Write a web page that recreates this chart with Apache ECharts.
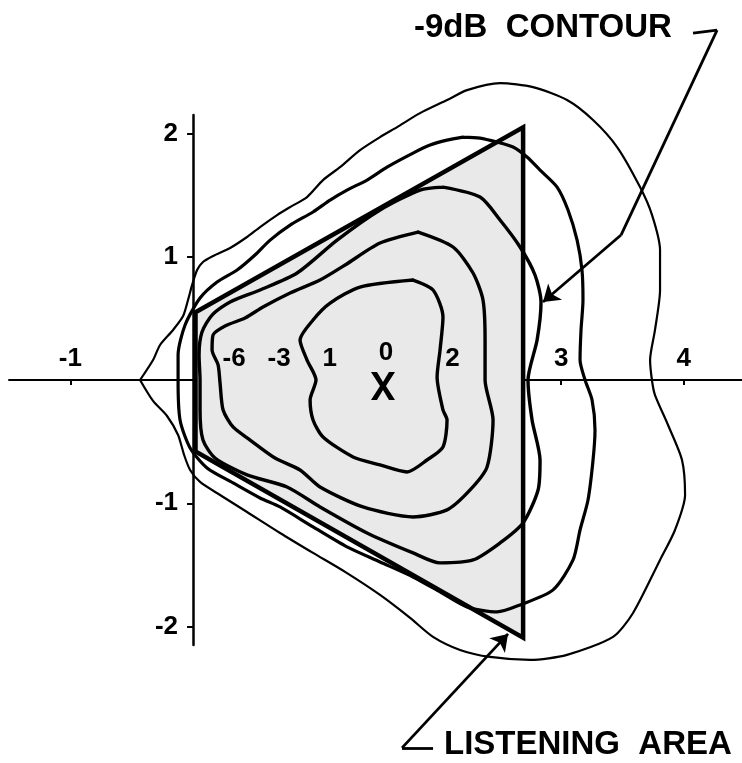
<!DOCTYPE html>
<html>
<head>
<meta charset="utf-8">
<script src="https://cdn.jsdelivr.net/npm/echarts@6/dist/echarts.min.js"></script>
<style>
  html, body { margin: 0; padding: 0; background: #ffffff; }
  #chart { width: 742px; height: 763px; }
</style>
</head>
<body>
<div id="chart"></div>
<script>
// Axis ticks (metres from the loudspeaker line)
const xTickValues = [-1, 1, 2, 3, 4];
const yTickValues = [-2, -1, 1, 2];

// Listening area (trapezoid), [x, y]
const listeningArea = [[0.02, 0.55], [2.69, 2.05], [2.69, -2.09], [0.02, -0.58]];

// Level contours, outermost first, each a closed ring of [x, y]
const ring1 = [
  [-0.432, 0], [-0.326, -0.170], [-0.212, -0.292], [-0.122, -0.446], [-0.073, -0.608],
  [-0.024, -0.730], [0.057, -0.827], [0.220, -0.933], [0.440, -1.071], [0.709, -1.241],
  [0.978, -1.403], [1.239, -1.557], [1.524, -1.744], [1.769, -1.930], [1.956, -2.084],
  [2.176, -2.190], [2.421, -2.247], [2.747, -2.271], [3.048, -2.230], [3.423, -2.084],
  [3.586, -1.890], [3.806, -1.460], [3.928, -1.217], [4.010, -0.933], [3.985, -0.649],
  [3.871, -0.365], [3.765, -0.122], [3.741, -0.008], [3.725, 0.162], [3.765, 0.406],
  [3.806, 0.730], [3.806, 1.054], [3.741, 1.338], [3.643, 1.565], [3.456, 1.890],
  [3.260, 2.109], [3.048, 2.271], [2.771, 2.376], [2.502, 2.409], [2.233, 2.352],
  [2.070, 2.271], [1.850, 2.165], [1.663, 2.052], [1.524, 1.971], [1.361, 1.865],
  [1.198, 1.727], [1.059, 1.622], [0.929, 1.484], [0.791, 1.403], [0.685, 1.338],
  [0.546, 1.241], [0.440, 1.160], [0.302, 1.071], [0.163, 1.006], [0.081, 0.957],
  [0.033, 0.892], [-0.008, 0.770], [-0.041, 0.649], [-0.081, 0.519], [-0.163, 0.406],
  [-0.269, 0.284], [-0.326, 0.162], [-0.432, 0]
];
const ring2 = [
  [2.200, 1.971], [2.339, 1.963], [2.478, 1.930], [2.608, 1.890], [2.722, 1.809],
  [2.828, 1.703], [2.967, 1.565], [3.056, 1.379], [3.130, 1.135], [3.170, 0.892],
  [3.178, 0.649], [3.162, 0.406], [3.154, 0.162], [3.195, 0], [3.252, -0.162],
  [3.276, -0.406], [3.260, -0.649], [3.219, -0.973], [3.154, -1.217], [3.097, -1.460],
  [2.934, -1.703], [2.665, -1.825], [2.478, -1.882], [2.233, -1.841], [2.013, -1.719],
  [1.793, -1.598], [1.524, -1.476], [1.255, -1.354], [0.978, -1.192], [0.709, -1.030],
  [0.546, -0.957], [0.326, -0.835], [0.114, -0.714], [-0.024, -0.551], [-0.106, -0.324],
  [-0.122, 0], [-0.122, 0.203], [-0.065, 0.446], [0.057, 0.665], [0.196, 0.795],
  [0.359, 0.892], [0.505, 1.014], [0.628, 1.135], [0.791, 1.257], [0.978, 1.363],
  [1.117, 1.460], [1.255, 1.541], [1.418, 1.622], [1.581, 1.727], [1.793, 1.841],
  [1.932, 1.906], [2.070, 1.946], [2.200, 1.971]
];
const ring3 = [
  [2.037, 1.565], [2.339, 1.484], [2.502, 1.298], [2.665, 1.079], [2.787, 0.852],
  [2.836, 0.633], [2.804, 0.324], [2.730, 0], [2.763, -0.324], [2.828, -0.649],
  [2.812, -0.892], [2.689, -1.160], [2.502, -1.322], [2.282, -1.460], [2.013, -1.484],
  [1.793, -1.403], [1.418, -1.241], [1.035, -1.030], [0.766, -0.868], [0.440, -0.770],
  [0.179, -0.633], [0.081, -0.487], [0.057, -0.243], [0.057, 0], [0.049, 0.203],
  [0.073, 0.389], [0.155, 0.527], [0.302, 0.633], [0.546, 0.730], [0.848, 0.868],
  [1.174, 1.135], [1.524, 1.379], [1.850, 1.541], [2.037, 1.565]
];
const ring4 = [
  [1.834, 1.200], [2.119, 1.079], [2.282, 0.868], [2.363, 0.649], [2.380, 0.324],
  [2.380, 0], [2.445, -0.324], [2.396, -0.706], [2.258, -0.892], [2.070, -1.054],
  [1.793, -1.111], [1.385, -1.030], [1.035, -0.868], [0.872, -0.730], [0.668, -0.633],
  [0.465, -0.487], [0.326, -0.381], [0.245, -0.243], [0.220, -0.024], [0.204, 0.122],
  [0.155, 0.243], [0.163, 0.365], [0.261, 0.438], [0.424, 0.503], [0.570, 0.592],
  [0.791, 0.706], [1.035, 0.811], [1.239, 0.933], [1.524, 1.111], [1.834, 1.200]
];
const ring5 = [
  [1.793, 0.811], [1.956, 0.730], [2.037, 0.511], [2.013, 0.243], [1.989, 0.024],
  [2.037, -0.243], [2.070, -0.324], [2.037, -0.543], [1.907, -0.649], [1.744, -0.746],
  [1.524, -0.689], [1.304, -0.624], [1.059, -0.462], [0.978, -0.324], [0.954, -0.162],
  [1.002, 0], [0.929, 0.162], [0.872, 0.324], [0.978, 0.487], [1.117, 0.624],
  [1.361, 0.754], [1.793, 0.811]
];

// Level labels written inside the field, anchored at bottom centre
const levelLabels = [
  { name: '-6', value: [0.334, 0.065] },
  { name: '-3', value: [0.701, 0.065] },
  { name: '0',  value: [1.573, 0.114] }
];
// Reference point
const centrePoint = [[1.548, -0.049]];

// Callout arrows (polyline vertices, arrow tip last)
const contourArrow = [[4.075, 2.814], [4.271, 2.839], [3.488, 1.176], [2.852, 0.633]];
const areaArrow = [[1.956, -2.985], [1.703, -2.985], [2.567, -2.060]];

const FONT = '"Liberation Sans", Arial, Helvetica, sans-serif';
const BOLD = { color: '#000', opacity: 1, fontWeight: 'bold', fontFamily: FONT };
const HIDDEN_POINT = { color: 'rgba(0,0,0,0)', opacity: 1 };

function ringSeries(data, width) {
  return {
    type: 'line', data: data, showSymbol: false, symbol: 'none', smooth: 0.25,
    clip: false, silent: true, animation: false, z: 3,
    lineStyle: { color: '#000', width: width, opacity: 1, join: 'round', cap: 'round' }
  };
}
function segmentsOf(pts) {
  const segs = [];
  for (let i = 0; i < pts.length - 1; i++) segs.push({ coords: [pts[i], pts[i + 1]], tip: i === pts.length - 2 });
  return segs;
}
const arrowSegs = segmentsOf(contourArrow).concat(segmentsOf(areaArrow));

// Tick labels sit on the axes that cross at the origin
const xTickLabelData = xTickValues.map(v => ({
  value: [v, 0], name: String(v),
  label: { offset: (v === 1 || v === 2) ? [14, 0] : [0, 0] }
}));
const yTickLabelData = yTickValues.map(v => ({ value: [0, v], name: String(v) }));

const chart = echarts.init(document.getElementById('chart'), null, { renderer: 'canvas' });
chart.setOption({
  backgroundColor: '#ffffff',
  animation: false,
  grid: { left: 9, right: 0, top: 115, bottom: 118, containLabel: false, outerBoundsMode: 'none' },
  xAxis: {
    type: 'value', min: -1.5, max: 4.474,
    axisLine: { onZero: true, lineStyle: { color: '#000', width: 2 } },
    axisTick: { show: true, customValues: xTickValues, length: 5, lineStyle: { color: '#000', width: 2 } },
    axisLabel: { show: false },
    splitLine: { show: false }
  },
  yAxis: {
    type: 'value', min: -2.15, max: 2.15,
    axisLine: { onZero: true, lineStyle: { color: '#000', width: 2.5 } },
    axisTick: { show: true, customValues: yTickValues, length: 6, lineStyle: { color: '#000', width: 2 } },
    axisLabel: { show: false },
    splitLine: { show: false }
  },
  series: [
    {
      // shaded listening area
      type: 'custom', coordinateSystem: 'cartesian2d', data: [[0, 0]], z: 1, silent: true, clip: false,
      renderItem: (params, api) => ({
        type: 'polygon',
        shape: { points: listeningArea.map(p => api.coord(p)) },
        style: { fill: '#e9e9e9', stroke: null }
      })
    },
    ringSeries(ring1, 2.2),
    ringSeries(ring2, 3.2),
    ringSeries(ring3, 3.4),
    ringSeries(ring4, 3.4),
    ringSeries(ring5, 3.4),
    {
      // listening area outline
      type: 'custom', coordinateSystem: 'cartesian2d', data: [[0, 0]], z: 4, silent: true, clip: false,
      renderItem: (params, api) => ({
        type: 'polygon',
        shape: { points: listeningArea.map(p => api.coord(p)) },
        style: { fill: null, stroke: '#000', lineWidth: 4.5, lineJoin: 'miter' }
      })
    },
    {
      type: 'scatter', data: xTickLabelData, symbolSize: 0.1, silent: true, z: 5,
      itemStyle: HIDDEN_POINT,
      label: Object.assign({ show: true, position: 'top', distance: 8, formatter: '{b}', fontSize: 26 }, BOLD)
    },
    {
      type: 'scatter', data: yTickLabelData, symbolSize: 0.1, silent: true, z: 5,
      itemStyle: HIDDEN_POINT,
      label: Object.assign({ show: true, position: 'left', distance: 15, formatter: '{b}', fontSize: 26 }, BOLD)
    },
    {
      type: 'scatter', data: levelLabels, symbolSize: 0.1, silent: true, z: 5,
      itemStyle: HIDDEN_POINT,
      label: Object.assign({ show: true, position: 'top', distance: 0, formatter: '{b}', fontSize: 26 }, BOLD)
    },
    {
      type: 'scatter', data: centrePoint, silent: true, z: 5,
      symbol: 'path://M0,0 L6,0 L12,10 L18,0 L24,0 L15,14 L24,28 L18,28 L12,18 L6,28 L0,28 L9,14 Z',
      symbolSize: [24, 28], itemStyle: { color: '#000', opacity: 1 }
    },
    {
      type: 'lines', coordinateSystem: 'cartesian2d', polyline: false, clip: false, silent: true, z: 6,
      symbol: ['none', 'none'],
      lineStyle: { color: '#000', width: 2.8, opacity: 1, curveness: 0 },
      data: arrowSegs.filter(s => !s.tip).map(s => ({ coords: s.coords }))
    },
    {
      type: 'lines', coordinateSystem: 'cartesian2d', polyline: false, clip: false, silent: true, z: 6,
      symbol: ['none', 'arrow'], symbolSize: 16,
      lineStyle: { color: '#000', width: 2.8, opacity: 1, curveness: 0 },
      data: arrowSegs.filter(s => s.tip).map(s => ({ coords: s.coords }))
    }
  ],
  graphic: [
    {
      type: 'text', left: 414, top: 11, silent: true,
      style: { text: '-9dB  CONTOUR', fill: '#000', font: 'bold 33px ' + FONT }
    },
    {
      type: 'text', left: 444, top: 728, silent: true,
      style: { text: 'LISTENING  AREA', fill: '#000', font: 'bold 33px ' + FONT }
    }
  ]
});
</script>
</body>
</html>
